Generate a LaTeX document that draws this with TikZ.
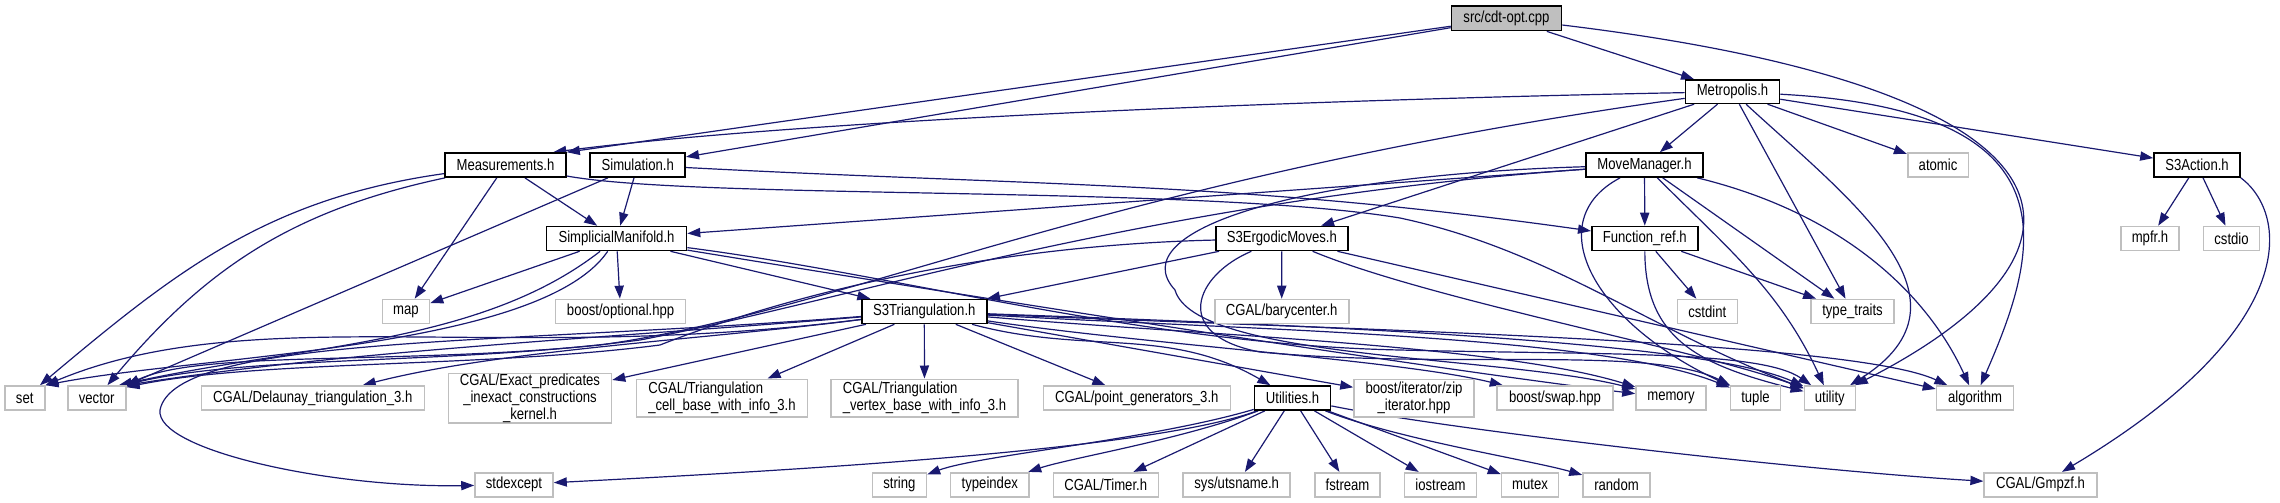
\documentclass[tikz,border=0pt]{standalone}
\usepackage{fontspec}
\setmainfont[FakeStretch=0.82]{Liberation Sans}
\usepackage{tikz}
\usetikzlibrary{arrows.meta, backgrounds}
\definecolor{edgeblue}{HTML}{191970}
\definecolor{boxgray}{HTML}{BFBFBF}
\tikzset{
  hbox/.style={draw=black, fill=white, line width=0.8pt, inner sep=0pt,
    minimum height=12pt, font=\fontsize{8}{6.9}\selectfont, align=center},
  sbox/.style={hbox, draw=boxgray},
  rbox/.style={hbox, fill=boxgray},
  dep/.style={draw=edgeblue, line width=0.6pt, -{Triangle[length=6.5pt,width=4.6pt]}}
}
\begin{document}
\begin{tikzpicture}[x=0.5pt, y=0.5pt]
  \useasboundingbox (0,0) rectangle (2280,-503);
  % project headers
  \node[rbox, minimum width=55pt, minimum height=12.3pt] (cdt) at (1506.5,-18.3) {src/cdt-opt.cpp};
  \node[hbox, minimum width=47pt, minimum height=11.7pt] (metro) at (1732.5,-91.7) {Metropolis.h};
  \node[hbox, minimum width=60.5pt] (meas) at (505.5,-165) {Measurements.h};
  \node[hbox, minimum width=47.5pt] (sim) at (637.7,-165) {Simulation.h};
  \node[hbox, minimum width=58.5pt] (mm) at (1644.5,-165) {MoveManager.h};
  \node[sbox, minimum width=30.3pt] (atomic) at (1938,-165) {atomic};
  \node[hbox, minimum width=43pt] (sact) at (2197,-165) {S3Action.h};
  \node[hbox, minimum width=70pt] (sman) at (616.5,-238.5) {SimplicialManifold.h};
  \node[hbox, minimum width=66pt] (serg) at (1281.8,-238.5) {S3ErgodicMoves.h};
  \node[hbox, minimum width=53pt] (fref) at (1644.8,-238.5) {Function\_ref.h};
  \node[sbox, minimum width=29pt] (mpfr) at (2150,-238.5) {mpfr.h};
  \node[sbox, minimum width=28pt] (cstdio) at (2231.5,-238.5) {cstdio};
  \node[sbox, minimum width=23.5pt] (map) at (406,-311.5) {map};
  \node[sbox, minimum width=65pt] (bopt) at (620.6,-311.5) {boost/optional.hpp};
  \node[hbox, minimum width=62.5pt] (s3t) at (924.3,-311.5) {S3Triangulation.h};
  \node[sbox, minimum width=67pt] (bary) at (1281.7,-311.5) {CGAL/barycenter.h};
  \node[sbox, minimum width=30pt] (cstdint) at (1707.3,-311.5) {cstdint};
  \node[sbox, minimum width=41.5pt] (ttraits) at (1852.5,-311.5) {type\_traits};
  % system and library headers
  \node[sbox, minimum width=20pt] (set) at (24.7,-398) {set};
  \node[sbox, minimum width=29pt] (vector) at (96.7,-398) {vector};
  \node[sbox, minimum width=111.5pt] (delaunay) at (312.8,-398) {CGAL/Delaunay\_triangulation\_3.h};
  \node[sbox, minimum width=81.5pt, minimum height=24.7pt] (epick) at (530,-398) {CGAL/Exact\_predicates\\\_inexact\_constructions\\\_kernel.h};
  \node[sbox, minimum width=85.5pt, minimum height=18.7pt, align=left] (tcell) at (722,-398) {CGAL/Triangulation\\\_cell\_base\_with\_info\_3.h};
  \node[sbox, minimum width=93.5pt, minimum height=18.7pt, align=left] (tvert) at (924.5,-398) {CGAL/Triangulation\\\_vertex\_base\_with\_info\_3.h};
  \node[sbox, minimum width=93.5pt] (pgen) at (1136.8,-398) {CGAL/point\_generators\_3.h};
  \node[hbox, minimum width=38pt] (utilh) at (1292.5,-398) {Utilities.h};
  \node[sbox, minimum width=60pt, minimum height=18.7pt] (zip) at (1414,-398) {boost/iterator/zip\\\_iterator.hpp};
  \node[sbox, minimum width=58pt] (swap) at (1555,-398) {boost/swap.hpp};
  \node[sbox, minimum width=35pt] (memory) at (1671,-398) {memory};
  \node[sbox, minimum width=25pt] (tuple) at (1755.5,-398) {tuple};
  \node[sbox, minimum width=25.5pt] (utility) at (1829.8,-398) {utility};
  \node[sbox, minimum width=38.5pt] (algo) at (1975,-398) {algorithm};
  \node[sbox, minimum width=39pt] (stdexc) at (514,-484.7) {stdexcept};
  \node[sbox, minimum width=27pt] (string) at (899.4,-484.7) {string};
  \node[sbox, minimum width=39.3pt] (tindex) at (989.8,-484.7) {typeindex};
  \node[sbox, minimum width=52.5pt] (timer) at (1105.8,-484.7) {CGAL/Timer.h};
  \node[sbox, minimum width=53.5pt] (utsname) at (1236.7,-484.7) {sys/utsname.h};
  \node[sbox, minimum width=32.5pt] (fstream) at (1347.5,-484.7) {fstream};
  \node[sbox, minimum width=36pt] (iostream) at (1440.5,-484.7) {iostream};
  \node[sbox, minimum width=28.5pt] (mutex) at (1530,-484.7) {mutex};
  \node[sbox, minimum width=33.5pt] (random) at (1616.5,-484.7) {random};
  \node[sbox, minimum width=56.3pt] (gmpzf) at (2040.5,-484.7) {CGAL/Gmpzf.h};

  \begin{scope}[on background layer]
    % straight includes
    \foreach \a/\b in {cdt/sim, cdt/metro, metro/serg, metro/mm,
        metro/ttraits, metro/atomic, metro/sact, mm/sman, mm/fref, mm/ttraits,
        sim/sman, sim/vector, meas/sman, meas/map, sman/map, sman/bopt,
        sman/s3t, serg/s3t, serg/bary, serg/algo, s3t/epick, s3t/tcell,
        s3t/tvert, s3t/pgen, s3t/zip, utilh/timer, utilh/utsname,
        utilh/fstream, utilh/iostream, utilh/mutex, fref/cstdint,
        fref/ttraits, sact/mpfr, sact/cstdio}
      \draw[dep] (\a) -- (\b);
    \draw[dep] (cdt) -- (meas.north east);
    % slightly bent includes
    \foreach \a/\b/\p/\q in {meas/set/188/40, meas/vector/192/50,
        sim/fref/-3/172, mm/utility/-45/115, s3t/utilh/-15/150}
      \draw[dep] (\a) to[out=\p, in=\q] (\b);
    % long splines
    \draw[dep] (cdt) .. controls (2100,-90) and (2120,-250) .. (utility);
    \draw[dep] (metro) .. controls (1300,-100) and (800,-120) .. (meas.15);
    \draw[dep] (metro) .. controls (1100,-180) and (850,-310) .. (600,-345)
      .. controls (400,-365) and (200,-350) .. (vector.north east);
    \draw[dep] (metro) .. controls (1850,-200) and (1985,-300) .. (utility);
    \draw[dep] (metro) .. controls (2080,-110) and (2040,-250) .. (algo);
    \draw[dep] (mm) .. controls (1150,-200) and (850,-300) .. (640,-340)
      .. controls (450,-365) and (250,-355) .. (vector.25);
    \draw[dep] (mm) .. controls (1850,-215) and (1930,-300) .. (algo);
    \draw[dep] (mm) .. controls (1540,-220) and (1590,-320) .. (tuple);
    \draw[dep] (mm) .. controls (1300,-175) and (1120,-230) .. (1175,-290)
      .. controls (1195,-360) and (1500,-355) .. (memory);
    \draw[dep] (meas) .. controls (700,-200) and (1200,-185) .. (1400,-218)
      .. controls (1550,-250) and (1650,-330) .. (utility);
    \draw[dep] (sman) .. controls (480,-345) and (300,-345) .. (vector.30);
    \draw[dep] (sman) .. controls (540,-350) and (200,-355) .. (set.north east);
    \draw[dep] (sman) .. controls (900,-285) and (1400,-365) .. (memory);
    \draw[dep] (sman) .. controls (900,-275) and (1150,-345) .. (1400,-350)
      .. controls (1600,-355) and (1760,-350) .. (utility);
    \draw[dep] (serg) .. controls (1000,-245) and (800,-290) .. (660,-345)
      .. controls (480,-368) and (260,-360) .. (vector.20);
    \draw[dep] (serg) .. controls (1195,-275) and (1170,-335) .. (1260,-352)
      .. controls (1450,-370) and (1650,-345) .. (tuple);
    \draw[dep] (serg) .. controls (1430,-300) and (1700,-350) .. (utility);
    \draw[dep] (s3t) .. controls (500,-365) and (250,-300) .. (set.north east);
    \draw[dep] (s3t) .. controls (650,-335) and (350,-350) .. (vector.north east);
    \draw[dep] (s3t) .. controls (500,-345) and (175,-335) .. (160,-410)
      .. controls (155,-450) and (330,-488) .. (stdexc);
    \draw[dep] (s3t) .. controls (700,-340) and (500,-350) .. (delaunay);
    \draw[dep] (s3t) .. controls (1150,-345) and (1400,-360) .. (swap);
    \draw[dep] (s3t) .. controls (1200,-335) and (1500,-345) .. (memory);
    \draw[dep] (s3t) .. controls (1250,-330) and (1600,-335) .. (tuple);
    \draw[dep] (s3t) .. controls (1300,-325) and (1700,-340) .. (utility);
    \draw[dep] (s3t) .. controls (1350,-330) and (1850,-340) .. (algo);
    \draw[dep] (utilh) .. controls (1150,-450) and (800,-470) .. (stdexc);
    \draw[dep] (utilh) .. controls (1150,-440) and (980,-455) .. (string);
    \draw[dep] (utilh) .. controls (1180,-440) and (1070,-458) .. (tindex);
    \draw[dep] (utilh) .. controls (1400,-440) and (1530,-460) .. (random);
    \draw[dep] (utilh) .. controls (1450,-430) and (1800,-470) .. (gmpzf);
    \draw[dep] (fref) .. controls (1645,-340) and (1700,-365) .. (utility);
    \draw[dep] (sact.south east) .. controls (2290,-215) and (2300,-330) .. (gmpzf);
  \end{scope}
\end{tikzpicture}
\end{document}
